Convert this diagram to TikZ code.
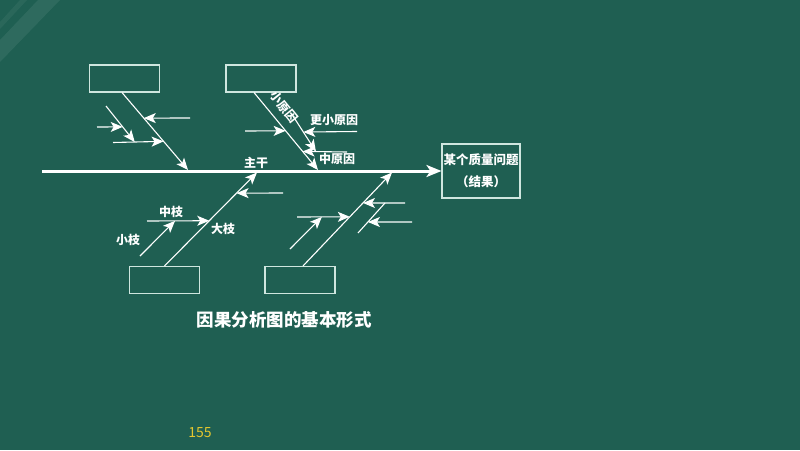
\documentclass[tikz,border=0pt]{standalone}
\usepackage{fontspec}
\newfontfamily\cjk{Noto Sans CJK SC}
\usetikzlibrary{arrows.meta,positioning}
\definecolor{board}{HTML}{1F5F52}
\definecolor{boxline}{HTML}{CFE6DF}
\definecolor{pagenum}{HTML}{E3C62F}

\begin{document}
\begin{tikzpicture}[x=1pt,y=-1pt,
    bone/.style={draw=white, line width=1.1pt, -{Stealth[length=12pt,width=10pt,inset=3pt]}},
    twig/.style={draw=white, line width=1.1pt},
    lbl/.style={text=white, inner sep=0pt, font=\cjk\bfseries\fontsize{12}{14}\selectfont}]
  \fill[board] (0,0) rectangle (800,450);
  \useasboundingbox (0,0) rectangle (800,450);
  % light streaks, top left
  \fill[white, opacity=0.07] (0,40) -- (38,0) -- (60,0) -- (0,62) -- cycle;
  \fill[white, opacity=0.05] (0,22) -- (20,0) -- (27,0) -- (0,29) -- cycle;

  \begin{scope}[every node/.style={draw=boxline, line width=1.1pt, minimum width=70pt, minimum height=27pt, inner sep=0pt}]
    \node (A) at (124.5,78.5) {};
    \node (B) at (261,78.5) {};
    \node (C) at (164.5,280) {};
    \node (D) at (300,280) {};
    \node[minimum width=78pt, minimum height=54pt] (R) at (481,171) {};
  \end{scope}

  % spine
  \coordinate (s0) at (42,171);
  \draw[white, line width=3pt, -{Stealth[length=15pt,width=12pt,inset=4pt]}] (s0) -- (R.west);
  \coordinate (t1) at (188,170);
  \coordinate (t2) at (318,170);
  \coordinate (b1) at (257,172.5);
  \coordinate (b2) at (392,172.5);

  % upper left bone
  \draw[bone] ([xshift=-2.5pt]A.south) -- coordinate[pos=0.33] (a1) coordinate[pos=0.63] (a2) (t1);
  \coordinate (a1r) at (190,118);
  \draw[bone] (a1r) -- (a1);
  \coordinate (a2l) at (113,142.5);
  \draw[bone] (a2l) -- coordinate[pos=0.43] (a3) (a2);
  \coordinate (a3t) at (106,106);
  \draw[bone] (a3t) -- coordinate[pos=0.58] (a4) (a3);
  \coordinate (a4l) at (97,127);
  \draw[bone] (a4l) -- (a4);

  % upper right bone
  \draw[bone] ([xshift=-7pt]B.south) -- coordinate[pos=0.494] (c1) coordinate[pos=0.76] (c2) (t2);
  \coordinate (c1l) at (245,131);
  \draw[bone] (c1l) -- (c1);
  \coordinate (c2r) at (347,152);
  \draw[bone] (c2r) -- coordinate[pos=0.7] (c3) (c2);
  \coordinate (c3t) at (293,116);
  \draw[bone] (c3t) -- coordinate[pos=0.45] (c4) (c3);
  \coordinate (c4r) at (357,131.5);
  \draw[bone] (c4r) -- (c4);

  % lower left bone
  \draw[bone] (C.north) -- coordinate[pos=0.484] (d1) coordinate[pos=0.779] (d2) (b1);
  \coordinate (d2r) at (283,193);
  \draw[bone] (d2r) -- (d2);
  \coordinate (d1l) at (147,221);
  \draw[bone] (d1l) -- coordinate[pos=0.45] (d3) (d1);
  \coordinate (d3b) at (140,256);
  \draw[bone] (d3b) -- (d3);

  % lower right bone
  \draw[bone] ([xshift=3pt]D.north) -- coordinate[pos=0.526] (e1) coordinate[pos=0.674] (e2) (b2);
  \coordinate (e1l) at (297,217);
  \draw[bone] (e1l) -- coordinate[pos=0.47] (e3) (e1);
  \coordinate (e3b) at (290,249);
  \draw[bone] (e3b) -- (e3);
  \coordinate (e2r) at (405,203);
  \draw[bone] (e2r) -- coordinate[pos=0.476] (e4) (e2);
  \coordinate (e4b) at (358,233);
  \draw[twig] (e4b) -- coordinate[pos=0.367] (e5) (e4);
  \coordinate (e5r) at (412,222);
  \draw[bone] (e5r) -- (e5);

  % labels
  \begin{scope}[every node/.style={lbl}]
    \node (zhu) at (256,163) {主干};
    \node (xiao) at (284,107) [rotate=-51] {小原因};
    \node (gx) at (334,120) {更小原因};
    \node (zh) at (337,159) {中原因};
    \node (zz) at (171,212) {中枝};
    \node (xz) at (128,240) {小枝};
    \node (dz) at (223,229) {大枝};
    \node[align=center, font=\cjk\bfseries\fontsize{12.5}{22}\selectfont] (res) at (R) {某个质量问题\\（结果）};
    \node[font=\cjk\bfseries\fontsize{17.5}{19}\selectfont] (title) at (284,320) {因果分析图的基本形式};
    \node[text=pagenum, font=\cjk\fontsize{14}{16}\selectfont] (page) at (200,433) {155};
  \end{scope}
\end{tikzpicture}
\end{document}
